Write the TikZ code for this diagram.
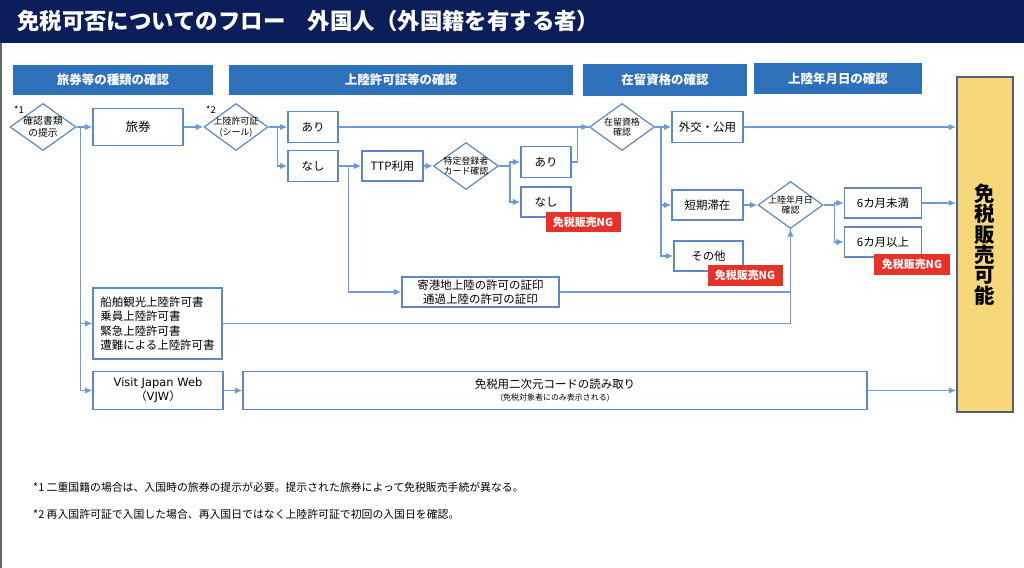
\documentclass[tikz,border=0pt]{standalone}
\usepackage{fontspec}
\setmainfont{Noto Sans CJK JP}
\newfontfamily\vjwfont{DejaVu Sans}
\usetikzlibrary{shapes,arrows.meta}
\definecolor{navy}{RGB}{12,30,90}
\definecolor{headblue}{RGB}{47,112,187}
\definecolor{boxblue}{RGB}{95,135,195}
\definecolor{lineblue}{RGB}{108,155,215}
\definecolor{ngred}{RGB}{232,50,40}
\definecolor{okyellow}{RGB}{246,216,122}
\definecolor{okedge}{RGB}{85,95,125}
\tikzstyle{block} = [rectangle, draw=boxblue, line width=1.2bp, fill=white,
    align=center, inner sep=0pt, font=\fontsize{11.5}{14}\selectfont]
\tikzstyle{decision} = [diamond, draw=boxblue, line width=1.2bp, fill=white, inner sep=0pt]
\tikzstyle{dtext} = [align=center, inner sep=0pt, font=\fontsize{9}{10.5}\selectfont]
\tikzstyle{header} = [rectangle, fill=headblue, text=white, inner sep=0pt,
    font=\bfseries\fontsize{12.5}{14}\selectfont]
\tikzstyle{ngtag} = [rectangle, fill=ngred, text=white, inner sep=0pt,
    minimum width=75bp, minimum height=20bp, font=\bfseries\fontsize{11}{12}\selectfont]
\tikzstyle{line} = [draw=lineblue, line width=1.4bp, -{Latex[length=7.5bp,width=6.5bp]}]
\tikzstyle{wire} = [draw=lineblue, line width=1.4bp]
\tikzstyle{note} = [anchor=west, inner sep=0pt, font=\fontsize{10.9}{12}\selectfont]

\begin{document}
\begin{tikzpicture}[x=1bp, y=-1bp]
	\useasboundingbox (0,0) rectangle (1024,568);

		% title bar
		\fill[navy] (0,0) rectangle (1024,43);
		\draw[gray!80!black, line width=2bp] (1,43) -- (1,568);
		\node [anchor=west, text=white, inner sep=0pt, font=\bfseries\fontsize{22.5}{24}\selectfont] (title) at (17,21) {免税可否についてのフロー　外国人（外国籍を有する者）};

		% column headers
		\node [header, minimum width=200bp, minimum height=30bp] (h1) at (113,80) {旅券等の種類の確認};
		\node [header, minimum width=344bp, minimum height=30bp] (h2) at (401,80) {上陸許可証等の確認};
		\node [header, minimum width=164bp, minimum height=32bp] (h3) at (665,80) {在留資格の確認};
		\node [header, minimum width=168bp, minimum height=31bp] (h4) at (838,78.5) {上陸年月日の確認};

		% first row
		\node [decision, minimum width=66bp, minimum height=47bp, label={[dtext, font=\fontsize{9.8}{12}\selectfont]center:確認書類\\の提示}] (kakunin) at (43,127) {};
		\node [anchor=west, inner sep=0pt, font=\fontsize{9.5}{10}\selectfont] (star1) at (14,110) {*1};
		\node [block, minimum width=90bp, minimum height=37bp, font=\fontsize{12.5}{14}\selectfont] (ryoken) at (138,127) {旅券};
		\node [decision, minimum width=64bp, minimum height=47bp, label={[dtext]center:上陸許可証\\(シール)}] (shiru) at (236,127) {};
		\node [anchor=west, inner sep=0pt, font=\fontsize{9.5}{10}\selectfont] (star2) at (206,110) {*2};
		\node [block, minimum width=50bp, minimum height=31bp] (ari) at (313,127) {あり};
		\node [block, minimum width=50bp, minimum height=31bp] (nashi) at (313,166) {なし};
		\node [block, minimum width=61bp, minimum height=30bp] (ttp) at (392.5,166) {TTP利用};
		\node [decision, minimum width=65bp, minimum height=47bp, label={[dtext]center:特定登録者\\カード確認}] (tokutei) at (466,166) {};
		\node [block, minimum width=50bp, minimum height=31bp] (aricard) at (546,162) {あり};
		\node [block, minimum width=50bp, minimum height=30bp] (nashicard) at (546,202) {なし};
		\node [ngtag] (ngcard) at (583,222) {免税販売NG};

		% residence status
		\node [decision, minimum width=65bp, minimum height=47bp, label={[dtext]center:在留資格\\確認}] (zairyu) at (622,127) {};
		\node [block, minimum width=71bp, minimum height=31bp] (gaiko) at (707.5,127) {外交・公用};
		\node [block, minimum width=71bp, minimum height=30bp] (tanki) at (707.5,205) {短期滞在};
		\node [block, minimum width=69bp, minimum height=30bp] (sonota) at (708.5,256) {その他};
		\node [ngtag] (ngsonota) at (745,275.5) {免税販売NG};

		% landing date
		\node [decision, minimum width=65bp, minimum height=47bp, label={[dtext]center:上陸年月日\\確認}] (nengappi) at (790.5,205) {};
		\node [block, minimum width=77bp, minimum height=30bp] (miman) at (883,203) {6カ月未満};
		\node [block, minimum width=77bp, minimum height=30bp] (ijo) at (883,242) {6カ月以上};
		\node [ngtag, minimum width=76bp] (ngijo) at (912,264.5) {免税販売NG};

		\node [rectangle, draw=okedge, line width=1.5bp, fill=okyellow, minimum width=56bp, minimum height=335bp,
			align=center, font=\bfseries\fontsize{20.5}{20.5}\selectfont] (kanou) at (985,244.5) {免\\税\\販\\売\\可\\能};

		% lower rows
		\node [block, minimum width=157bp, minimum height=30bp] (kikou) at (480.5,292) {寄港地上陸の許可の証印\\通過上陸の許可の証印};
		\node [block, minimum width=129bp, minimum height=71bp, align=left, font=\fontsize{11.5}{14.5}\selectfont] (senpaku) at (157.5,323.5) {船舶観光上陸許可書\\乗員上陸許可書\\緊急上陸許可書\\遭難による上陸許可書};
		\node [block, minimum width=130bp, minimum height=38bp, font=\fontsize{11.5}{14}\selectfont] (vjw) at (158,390.5) {{\vjwfont Visit Japan Web}\\（{\vjwfont VJW}）};
		\node [block, minimum width=624bp, minimum height=38bp, font=\fontsize{11.5}{12.5}\selectfont] (qr) at (555,390.5) {免税用二次元コードの読み取り\\{\fontsize{8}{8}\selectfont (免税対象者にのみ表示される)}};

		% connectors
		\path [line] (kakunin.east) -- (ryoken.west);
		\path [line] (kakunin.east) -- ++(4,0) |- (senpaku.west);
		\path [line] (kakunin.east) -- ++(4,0) |- (vjw.west);

		\path [line] (ryoken.east) -- (shiru.west);
		\path [line] (shiru.east) -- (ari.west);
		\path [line] (shiru.east) -- ++(9,0) |- (nashi.west);

		\path [line] (ari.east) -- (zairyu.west);
		\path [line] (nashi.east) -- (ttp.west);
		\path [line] (nashi.east) -- ++(10,0) |- (kikou.west);

		\path [line] (ttp.east) -- (tokutei.west);
		\path [line] (tokutei.east) -- ++(11,0) |- (aricard.west);
		\path [line] (tokutei.east) -- ++(11,0) |- (nashicard.west);
		\path [wire] (aricard.east) -- ++(6,0) |- (zairyu.west);

		\path [line] (zairyu.east) -- (gaiko.west);
		\path [line] (zairyu.east) -- ++(6,0) |- (tanki.west);
		\path [line] (zairyu.east) -- ++(6,0) |- (sonota.west);

		\path [line] (gaiko.east) -- (gaiko.east -| kanou.west);
		\path [line] (tanki.east) -- (nengappi.west);
		\path [line] (nengappi.east) -- ++(11,0) |- (miman.west);
		\path [line] (nengappi.east) -- ++(11,0) |- (ijo.west);
		\path [line] (miman.east) -- (miman.east -| kanou.west);

		\path [wire] (kikou.east) -| (nengappi.south);
		\path [line] (senpaku.east) -| (nengappi.south);

		\path [line] (vjw.east) -- (qr.west);
		\path [line] (qr.east) -- (qr.east -| kanou.west);

		% footnotes
		\node [note] (note1) at (33,487) {*1 二重国籍の場合は、入国時の旅券の提示が必要。提示された旅券によって免税販売手続が異なる。};
		\node [note] (note2) at (33,514) {*2 再入国許可証で入国した場合、再入国日ではなく上陸許可証で初回の入国日を確認。};
	\end{tikzpicture}
\end{document}
